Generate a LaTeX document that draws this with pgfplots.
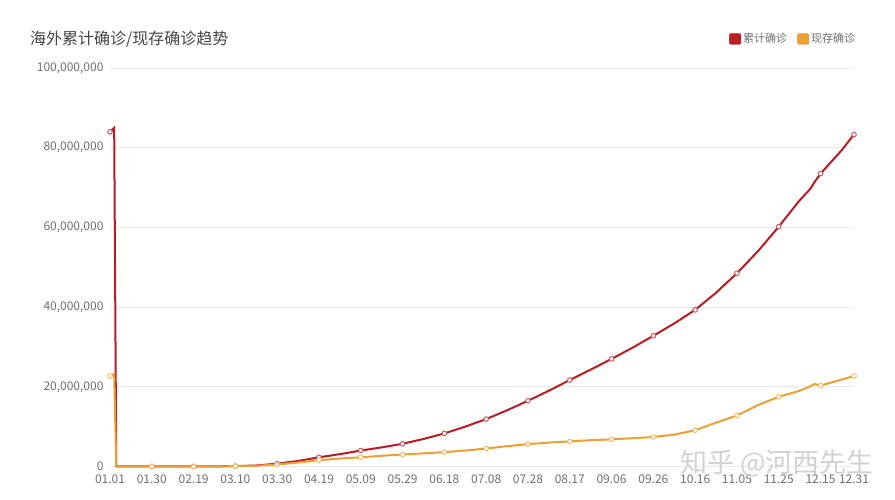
\documentclass[border=0pt]{standalone}
\usepackage{pgfplots}
\pgfplotsset{compat=1.18}
\usepackage{pgfplotstable}
\usepackage{fontspec}
\setmainfont{Noto Sans CJK SC}
\newfontfamily\cjk{Noto Sans CJK SC}
\definecolor{redc}{RGB}{185,28,34}
\definecolor{redm}{RGB}{205,90,100}
\definecolor{orac}{RGB}{236,160,52}
\definecolor{oram}{RGB}{240,190,110}
\definecolor{labgray}{RGB}{110,112,121}
\definecolor{gridc}{RGB}{236,236,236}
\definecolor{titlec}{RGB}{70,70,70}
\pgfplotstableread{
x total current tm cm
0 84.0 22.7 84.0 22.7
2 85.0 23.2 nan nan
3 0 0 nan nan
10 0 0 nan nan
20 0.01 0.01 0.01 0.01
30 0.01 0.01 nan nan
40 0.02 0.02 0.02 0.02
50 0.04 0.03 nan nan
60 0.1 0.08 0.1 0.08
70 0.25 0.2 nan nan
80 0.7 0.5 0.7 0.5
90 1.4 1.0 nan nan
100 2.3 1.6 2.3 1.6
110 3.1 2.0 nan nan
120 4.0 2.3 4.0 2.3
130 4.8 2.7 nan nan
140 5.7 3.0 5.7 3.0
150 6.9 3.3 nan nan
160 8.3 3.6 8.3 3.6
170 10.0 4.0 nan nan
180 11.9 4.5 11.9 4.5
190 14.1 5.1 nan nan
200 16.5 5.6 16.5 5.6
210 19.0 6.0 nan nan
220 21.7 6.3 21.7 6.3
230 24.3 6.6 nan nan
240 27.0 6.8 27.0 6.8
250 29.8 7.1 nan nan
260 32.8 7.4 32.8 7.4
270 35.9 8.0 nan nan
280 39.3 9.1 39.3 9.1
290 43.6 11.0 nan nan
300 48.5 12.8 48.5 12.8
310 54.0 15.4 nan nan
320 60.2 17.5 60.2 17.5
330 66.8 19.0 nan nan
335 69.6 20.1 nan nan
337 71.3 20.7 nan nan
340 73.5 20.3 73.5 20.3
350 79.3 21.8 nan nan
356 83.3 22.7 83.3 22.7
}\data
\begin{document}
\begin{tikzpicture}
\useasboundingbox (0,0) rectangle (895pt,500pt);
\fill[white] (0,0) rectangle (895pt,500pt);
\node[anchor=west, inner sep=0pt, font=\cjk\fontsize{16}{18}\selectfont, text=titlec] at (30pt,461pt) {海外累计确诊/现存确诊趋势};
\begin{axis}[
  at={(110pt,33.5pt)}, anchor=south west,
  scale only axis, width=744pt, height=398.5pt,
  xmin=0, xmax=356, ymin=0, ymax=100,
  clip=false,
  axis line style={draw=none},
  major tick length=0pt,
  ymajorgrids, grid style={draw=gridc, line width=0.8pt},
  xtick={0,20,40,60,80,100,120,140,160,180,200,220,240,260,280,300,320,340,356},
  xticklabels={01.01,01.30,02.19,03.10,03.30,04.19,05.09,05.29,06.18,07.08,07.28,08.17,09.06,09.26,10.16,11.05,11.25,12.15,12.31},
  ytick={0,20,40,60,80,100},
  yticklabels={0,{20,000,000},{40,000,000},{60,000,000},{80,000,000},{100,000,000}},
  xticklabel style={font=\cjk\fontsize{12}{14}\selectfont, text=labgray, yshift=-5pt},
  yticklabel style={font=\cjk\fontsize{12}{14}\selectfont, text=labgray, xshift=-3pt},
  legend style={draw=none, fill=none, at={(0.832,1.0728)}, anchor=west, inner sep=0pt,
    font=\cjk\fontsize{11}{13}\selectfont, text=labgray,
    nodes={inner sep=2pt}},
  legend columns=2,
  legend cell align=left,
  /tikz/every even column/.append style={column sep=8pt},
  unbounded coords=discard,
]
\addlegendimage{legend image code/.code={\fill[redc, rounded corners=1.5pt] (0pt,-5.5pt) rectangle (11.5pt,5.5pt);}}
\addlegendentry{累计确诊}
\addlegendimage{legend image code/.code={\fill[orac, rounded corners=1.5pt] (0pt,-5.5pt) rectangle (11.5pt,5.5pt);}}
\addlegendentry{现存确诊}
\addplot[redc, line width=2pt, no marks, forget plot] table[x=x, y=total] {\data};
\addplot[only marks, mark=*, mark size=2.3pt, mark options={fill=white, draw=redm, line width=1pt}, forget plot] table[x=x, y=tm] {\data};
\addplot[orac, line width=2pt, no marks, forget plot] table[x=x, y=current] {\data};
\addplot[only marks, mark=*, mark size=2.3pt, mark options={fill=white, draw=oram, line width=1pt}, forget plot] table[x=x, y=cm] {\data};
\end{axis}
\node[anchor=west, inner sep=0pt, font=\cjk\fontsize{27}{30}\selectfont, text=gray!35] at (680pt,37pt) {知乎 @河西先生};
\end{tikzpicture}
\end{document}
